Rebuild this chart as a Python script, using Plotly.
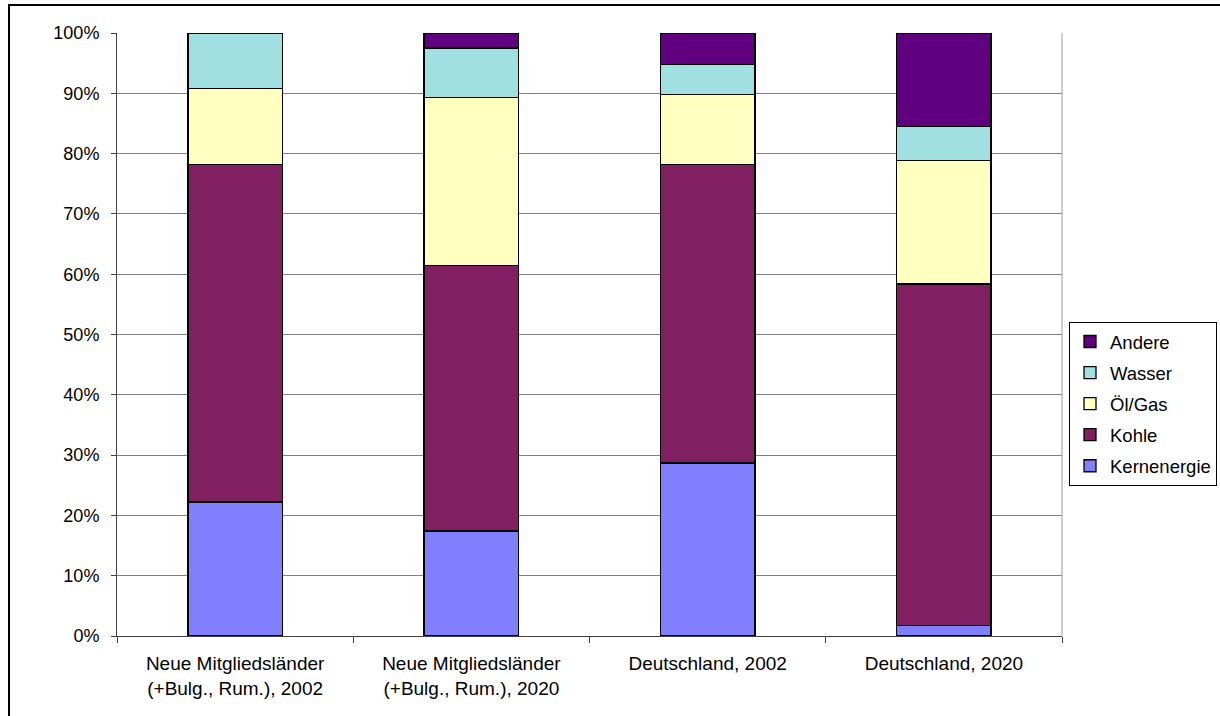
import plotly.graph_objects as go

categories = [
    "Neue Mitgliedsländer<br>(+Bulg., Rum.), 2002",
    "Neue Mitgliedsländer<br>(+Bulg., Rum.), 2020",
    "Deutschland, 2002",
    "Deutschland, 2020",
]
series_names = ["Kernenergie", "Kohle", "Öl/Gas", "Wasser", "Andere"]
kernenergie = [22.2, 17.4, 28.7, 1.8]
kohle = [56.0, 44.0, 49.5, 56.6]
oel_gas = [12.6, 27.9, 11.6, 20.5]
wasser = [9.2, 8.2, 5.0, 5.6]
andere = [0.0, 2.5, 5.2, 15.5]
y_ticks = [0, 10, 20, 30, 40, 50, 60, 70, 80, 90, 100]
y_tick_labels = ["0%", "10%", "20%", "30%", "40%", "50%", "60%", "70%", "80%", "90%", "100%"]

values = [kernenergie, kohle, oel_gas, wasser, andere]
colors = ["#8080FF", "#802060", "#FFFFC0", "#A0E0E0", "#600080"]

FONT = "Liberation Sans, Arial, sans-serif"

fig = go.Figure()
n = len(series_names)
for i, (name, vals, col) in enumerate(zip(series_names, values, colors)):
    fig.add_trace(go.Bar(
        x=categories, y=vals, name=name, legendgroup=name,
        legendrank=n - i,
        marker=dict(color=col, line=dict(color="black", width=1.3)),
        width=0.4,
    ))

W, H = 1220, 716
L, R, T, B = 117, 158, 33, 80
pw, ph = W - L - R, H - T - B

def px_x(x):
    return (x - L) / pw

def px_y(y):
    return (H - B - y) / ph

fig.update_layout(
    width=W, height=H,
    margin=dict(l=L, r=R, t=T, b=B, autoexpand=False),
    barmode="stack",
    bargap=0.6,
    paper_bgcolor="white", plot_bgcolor="white",
    font=dict(family=FONT, size=18, color="black"),
    showlegend=True,
    legend=dict(
        x=px_x(1069), y=px_y(322), xanchor="left", yanchor="top",
        traceorder="grouped", tracegroupgap=4,
        bordercolor="black", borderwidth=1, bgcolor="white",
        font=dict(family=FONT, size=18.5, color="black"),
        itemwidth=30,
    ),
    xaxis=dict(
        type="category", showline=True, linecolor="#404040", linewidth=1,
        ticks="outside", tickson="boundaries", ticklen=6, tickcolor="#404040",
        showgrid=False, tickfont=dict(size=19), ticklabelstandoff=10,
    ),
    yaxis=dict(
        range=[0, 100], tickvals=y_ticks, ticktext=y_tick_labels,
        showline=True, linecolor="#404040", linewidth=1,
        ticks="outside", ticklen=5, tickcolor="#404040",
        showgrid=True, gridcolor="#808080", gridwidth=1,
        zeroline=False, tickfont=dict(size=18), ticklabelstandoff=8,
    ),
    shapes=[
        dict(type="line", xref="paper", yref="paper", x0=1, x1=1, y0=0, y1=1,
             line=dict(color="#A0A0A0", width=1)),
        dict(type="line", xref="paper", yref="paper", x0=px_x(8), x1=px_x(1240),
             y0=px_y(5), y1=px_y(5), line=dict(color="black", width=2)),
        dict(type="line", xref="paper", yref="paper", x0=px_x(9), x1=px_x(9),
             y0=px_y(4), y1=px_y(740), line=dict(color="black", width=2)),
    ],
)

fig.write_html(
    "out.html",
    config={"displayModeBar": False},
    post_script="document.body.style.margin='0';document.body.style.padding='0';",
)
